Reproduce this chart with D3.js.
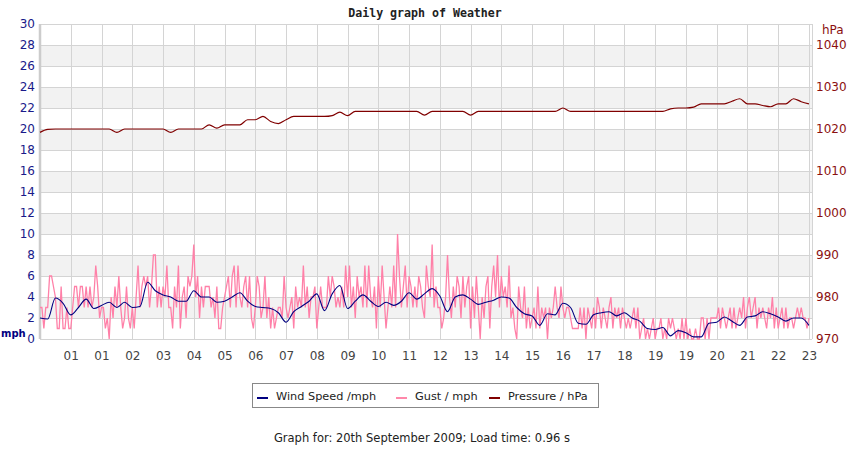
<!DOCTYPE html>
<html lang="en">
<head>
    <meta charset="UTF-8">
    <title>Daily graph of Weather</title>
    <script src="https://d3js.org/d3.v7.min.js"></script>
    <style>
        body { margin: 0; background: #fff; }
        text { font-family: "DejaVu Sans", sans-serif; }
    </style>
</head>
<body>
<svg id="chart" width="850" height="450"></svg>

<script>
    // x positions are in "tick units": tick labels sit at 1..25
    const xLabels = ["01", "01", "02", "03", "04", "05", "06", "07", "08", "09", "10", "11", "12",
        "13", "14", "15", "16", "17", "18", "19", "19", "20", "21", "22", "23"];
    const mphTicks = [0, 2, 4, 6, 8, 10, 12, 14, 16, 18, 20, 22, 24, 26, 28, 30];
    const hpaTicks = [970, 980, 990, 1000, 1010, 1020, 1030, 1040];

    // wind speed, one reading every 1/4 tick unit
    const windStep = 0.25;
    const windSpeed = [
        2.0, 1.9, 3.9, 3.4, 2.3, 3.0, 3.8, 2.9, 3.2, 3.5, 3.0, 3.5, 3.0, 3.1, 5.4, 4.6,
        4.2, 4.0, 3.6, 3.6, 4.6, 4.0, 4.0, 3.5, 3.6, 4.0, 4.4, 3.6, 3.1, 3.0, 2.9, 2.5,
        1.6, 2.6, 3.1, 3.6, 4.3, 2.7, 4.3, 5.1, 2.9, 3.6, 4.2, 3.6, 3.1, 3.5, 3.2, 3.6,
        4.4, 3.8, 4.3, 4.8, 4.1, 2.6, 4.0, 4.2, 3.8, 3.3, 3.5, 3.7, 4.0, 3.9, 3.0, 2.4,
        2.2, 1.3, 2.4, 2.3, 3.4, 3.0, 1.5, 1.4, 2.3, 2.5, 2.6, 2.2, 2.5, 2.0, 1.7, 1.0,
        0.9, 1.1, 0.3, 0.8, 0.6, 0.2, 0.2, 1.5, 1.6, 2.1, 1.7, 1.3, 2.1, 2.2, 2.6, 2.4,
        2.1, 1.7, 2.0, 2.0, 1.3
    ];

    // gusts, one reading every 1/16 tick unit
    const gustStep = 0.0625;
    const gust = [
        3, 3, 1, 3, 3, 6, 6, 5, 4, 1,  1, 5, 1, 1, 3, 1, 1, 3, 5, 5,
        3, 5, 5, 3, 5, 3, 5, 3, 4, 7,  5, 2, 3, 3, 1, 2, 0, 4, 2, 5,
        3, 6, 3, 1, 2, 5, 2, 1, 3, 1,  4, 7, 3, 5, 6, 5, 6, 3, 5, 8,
        8, 3, 5, 3, 5, 4, 7, 3, 3, 1,  5, 3, 7, 1, 4, 5, 2, 6, 5, 6,
        9, 4, 6, 2, 5, 3, 5, 5, 5, 3,  4, 2, 5, 1, 1, 3, 4, 5, 6, 3,
        6, 7, 3, 7, 4, 3, 5, 6, 3, 6,  2, 1, 3, 6, 5, 2, 3, 6, 2, 4,
        1, 3, 1, 2, 3, 3, 2, 6, 3, 2,  3, 4, 1, 5, 3, 4, 3, 7, 3, 5,
        2, 4, 4, 5, 1, 3, 5, 3, 3, 3,  6, 4, 6, 5, 3, 4, 3, 5, 3, 7,
        4, 7, 3, 5, 2, 6, 4, 5, 3, 7,  3, 7, 4, 3, 5, 1, 6, 3, 7, 4,
        1, 3, 5, 3, 7, 3, 10, 6, 3, 5, 7, 3, 6, 5, 3, 5, 3, 6, 5, 3,
        2, 7, 5, 4, 9, 3, 5, 3, 3, 1,  2, 4, 8, 4, 2, 5, 3, 6, 5, 2,
        6, 3, 5, 6, 1, 5, 2, 6, 3, 0,  4, 2, 5, 6, 1, 5, 7, 4, 8, 3,
        6, 4, 5, 3, 7, 2, 3, 1, 0, 5,  3, 2, 5, 1, 3, 1, 2, 3, 1, 5,
        1, 3, 2, 3, 0, 3, 2, 3, 5, 3,  2, 5, 3, 2, 3, 3, 2, 1, 1, 1,
        1, 3, 1, 3, 0, 3, 2, 1, 3, 1,  4, 3, 1, 3, 2, 1, 3, 4, 1, 3,
        2, 3, 1, 3, 2, 1, 2, 1, 2, 3,  1, 3, 0, 1, 2, 0, 1, 0, 1, 2,
        0, 1, 1, 2, 0, 1, 0, 2, 1, 2,  1, 0, 1, 0, 2, 0, 2, 0, 1, 0,
        0, 1, 0, 0, 2, 2, 0, 2, 0, 2,  2, 2, 2, 3, 1, 3, 2, 1, 2, 3,
        1, 3, 1, 2, 3, 2, 4, 1, 3, 4,  2, 3, 4, 1, 3, 2, 3, 2, 1, 3,
        2, 4, 1, 3, 1, 2, 3, 1, 3, 1,  2, 2, 1, 2, 3, 2, 3, 2, 2, 1,
        2
    ];

    // pressure in hPa, one reading every 1/4 tick unit
    const pressureStep = 0.25;
    const pressure = [
        1019.2, 1019.9, 1020.0, 1020.0, 1020.0, 1020.0, 1020.0, 1020.0, 1020.0, 1020.0,
        1019.2, 1020.0, 1020.0, 1020.0, 1020.0, 1020.0, 1020.0, 1019.2, 1020.0, 1020.0,
        1020.0, 1020.0, 1021.0, 1020.2, 1021.0, 1021.0, 1021.0, 1022.2, 1022.2, 1023.0,
        1021.8, 1021.3, 1022.2, 1023.0, 1023.0, 1023.0, 1023.0, 1023.0, 1023.2, 1024.0,
        1023.2, 1024.2, 1024.2, 1024.2, 1024.2, 1024.2, 1024.2, 1024.2, 1024.2, 1024.2,
        1023.3, 1024.2, 1024.2, 1024.2, 1024.2, 1024.2, 1023.3, 1024.2, 1024.2, 1024.2,
        1024.2, 1024.2, 1024.2, 1024.2, 1024.2, 1024.2, 1024.2, 1024.2, 1025.0, 1024.2,
        1024.2, 1024.2, 1024.2, 1024.2, 1024.2, 1024.2, 1024.2, 1024.2, 1024.2, 1024.2,
        1024.2, 1024.2, 1024.8, 1025.0, 1025.0, 1025.2, 1026.0, 1026.0, 1026.0, 1026.0,
        1026.6, 1027.2, 1026.0, 1026.0, 1025.6, 1025.3, 1026.0, 1026.0, 1027.2, 1026.5,
        1026.0
    ];

    const legendItems = [
        { name: "Wind Speed /mph", color: "#000080" },
        { name: "Gust / mph", color: "#ff88aa" },
        { name: "Pressure / hPa", color: "#800000" }
    ];

    const plotLeft = 40, plotRight = 812, plotTop = 24, plotBottom = 339;

    const svg = d3.select("#chart");

    const x = d3.scaleLinear().domain([0, 25.1]).range([plotLeft, plotRight]);
    const y = d3.scaleLinear().domain([0, 30]).range([plotBottom, plotTop]);
    const yP = d3.scaleLinear().domain([970, 1045]).range([plotBottom, plotTop]);

    // title
    svg.append("text")
        .attr("x", 425).attr("y", 17)
        .attr("text-anchor", "middle")
        .style("font-family", "'DejaVu Sans Mono', monospace")
        .style("font-weight", "bold")
        .style("font-size", "11.6px")
        .attr("fill", "#222")
        .text("Daily graph of Weather");

    // background bands
    const bands = mphTicks.filter(function (d) { return d % 4 === 2 && d < 30; });
    svg.append("g").selectAll("rect")
        .data(bands).enter()
        .append("rect")
        .attr("x", plotLeft)
        .attr("width", plotRight - plotLeft)
        .attr("y", function (d) { return y(d + 2); })
        .attr("height", function (d) { return y(d) - y(d + 2); })
        .attr("fill", "#f2f2f2");

    // grid lines
    const grid = svg.append("g").attr("stroke", "#d4d4d4").attr("stroke-width", 1);
    grid.selectAll(".h")
        .data(mphTicks).enter()
        .append("line")
        .attr("x1", plotLeft).attr("x2", plotRight)
        .attr("y1", function (d) { return Math.round(y(d)) + 0.5; })
        .attr("y2", function (d) { return Math.round(y(d)) + 0.5; });
    grid.selectAll(".v")
        .data(d3.range(1, 26)).enter()
        .append("line")
        .attr("y1", plotTop).attr("y2", plotBottom)
        .attr("x1", function (d) { return Math.round(x(d)) + 0.5; })
        .attr("x2", function (d) { return Math.round(x(d)) + 0.5; });
    svg.append("line")
        .attr("x1", plotLeft).attr("x2", plotLeft).attr("y1", plotTop).attr("y2", plotBottom)
        .attr("stroke", "#cccccc").attr("stroke-width", 2.5);
    svg.append("line")
        .attr("x1", plotRight + 0.5).attr("x2", plotRight + 0.5).attr("y1", plotTop).attr("y2", plotBottom)
        .attr("stroke", "#d4d4d4");

    // axes
    const yAxis = svg.append("g")
        .attr("transform", "translate(" + (plotLeft - 5) + ",0)")
        .call(d3.axisLeft(y).tickValues(mphTicks).tickSize(0).tickPadding(0));
    yAxis.select(".domain").remove();
    yAxis.selectAll("text")
        .attr("fill", "#1a1a8a")
        .style("font-size", "12px")
        .style("font-family", "'DejaVu Sans', sans-serif");

    const pAxis = svg.append("g")
        .attr("transform", "translate(" + (plotRight + 4) + ",0)")
        .call(d3.axisRight(yP).tickValues(hpaTicks).tickSize(0).tickPadding(0)
            .tickFormat(d3.format("d")));
    pAxis.select(".domain").remove();
    pAxis.selectAll("text")
        .attr("fill", "#8b1010")
        .style("font-size", "12px")
        .style("font-family", "'DejaVu Sans', sans-serif");

    const xAxis = svg.append("g")
        .attr("transform", "translate(0," + plotBottom + ")")
        .call(d3.axisBottom(x).tickValues(d3.range(1, 26)).tickSize(0).tickPadding(12)
            .tickFormat(function (d, i) { return xLabels[i]; }));
    xAxis.select(".domain").remove();
    xAxis.selectAll("text")
        .attr("fill", "#444")
        .style("font-size", "12px")
        .style("font-family", "'DejaVu Sans', sans-serif");

    svg.append("text")
        .attr("x", 1).attr("y", 337)
        .attr("fill", "#000080")
        .style("font-weight", "bold")
        .style("font-size", "10px")
        .text("mph");
    svg.append("text")
        .attr("x", 822).attr("y", 34)
        .attr("fill", "#8b1010")
        .style("font-size", "12px")
        .text("hPa");

    // series
    const plot = svg.append("g");

    const gustLine = d3.line()
        .x(function (d, i) { return x(i * gustStep); })
        .y(function (d) { return y(d); });
    plot.append("path")
        .datum(gust)
        .attr("d", gustLine)
        .attr("fill", "none")
        .attr("stroke", "#ff80a8")
        .attr("stroke-width", 1.3);

    const windLine = d3.line()
        .x(function (d, i) { return x(i * windStep); })
        .y(function (d) { return y(d); })
        .curve(d3.curveMonotoneX);
    plot.append("path")
        .datum(windSpeed)
        .attr("d", windLine)
        .attr("fill", "none")
        .attr("stroke", "#000080")
        .attr("stroke-width", 1.1);

    const pressureLine = d3.line()
        .x(function (d, i) { return x(i * pressureStep); })
        .y(function (d) { return yP(d); })
        .curve(d3.curveMonotoneX);
    plot.append("path")
        .datum(pressure)
        .attr("d", pressureLine)
        .attr("fill", "none")
        .attr("stroke", "#800000")
        .attr("stroke-width", 1.2);

    // legend
    const legend = svg.append("g");
    legend.append("rect")
        .attr("x", 252.5).attr("y", 383.5)
        .attr("width", 346).attr("height", 24)
        .attr("fill", "#fff")
        .attr("stroke", "#888");
    const legendX = [257, 396, 489];
    const items = legend.selectAll("g.item")
        .data(legendItems).enter()
        .append("g")
        .attr("transform", function (d, i) { return "translate(" + legendX[i] + ",0)"; });
    items.append("line")
        .attr("x1", 0).attr("x2", 11)
        .attr("y1", 398).attr("y2", 398)
        .attr("stroke", function (d) { return d.color; })
        .attr("stroke-width", 2);
    items.append("text")
        .attr("x", 19).attr("y", 400)
        .attr("fill", "#222")
        .style("font-size", "11.3px")
        .text(function (d) { return d.name; });

    svg.append("text")
        .attr("x", 422).attr("y", 442)
        .attr("text-anchor", "middle")
        .attr("fill", "#222")
        .style("font-size", "11.5px")
        .text("Graph for: 20th September 2009; Load time: 0.96 s");
</script>
</body>
</html>
